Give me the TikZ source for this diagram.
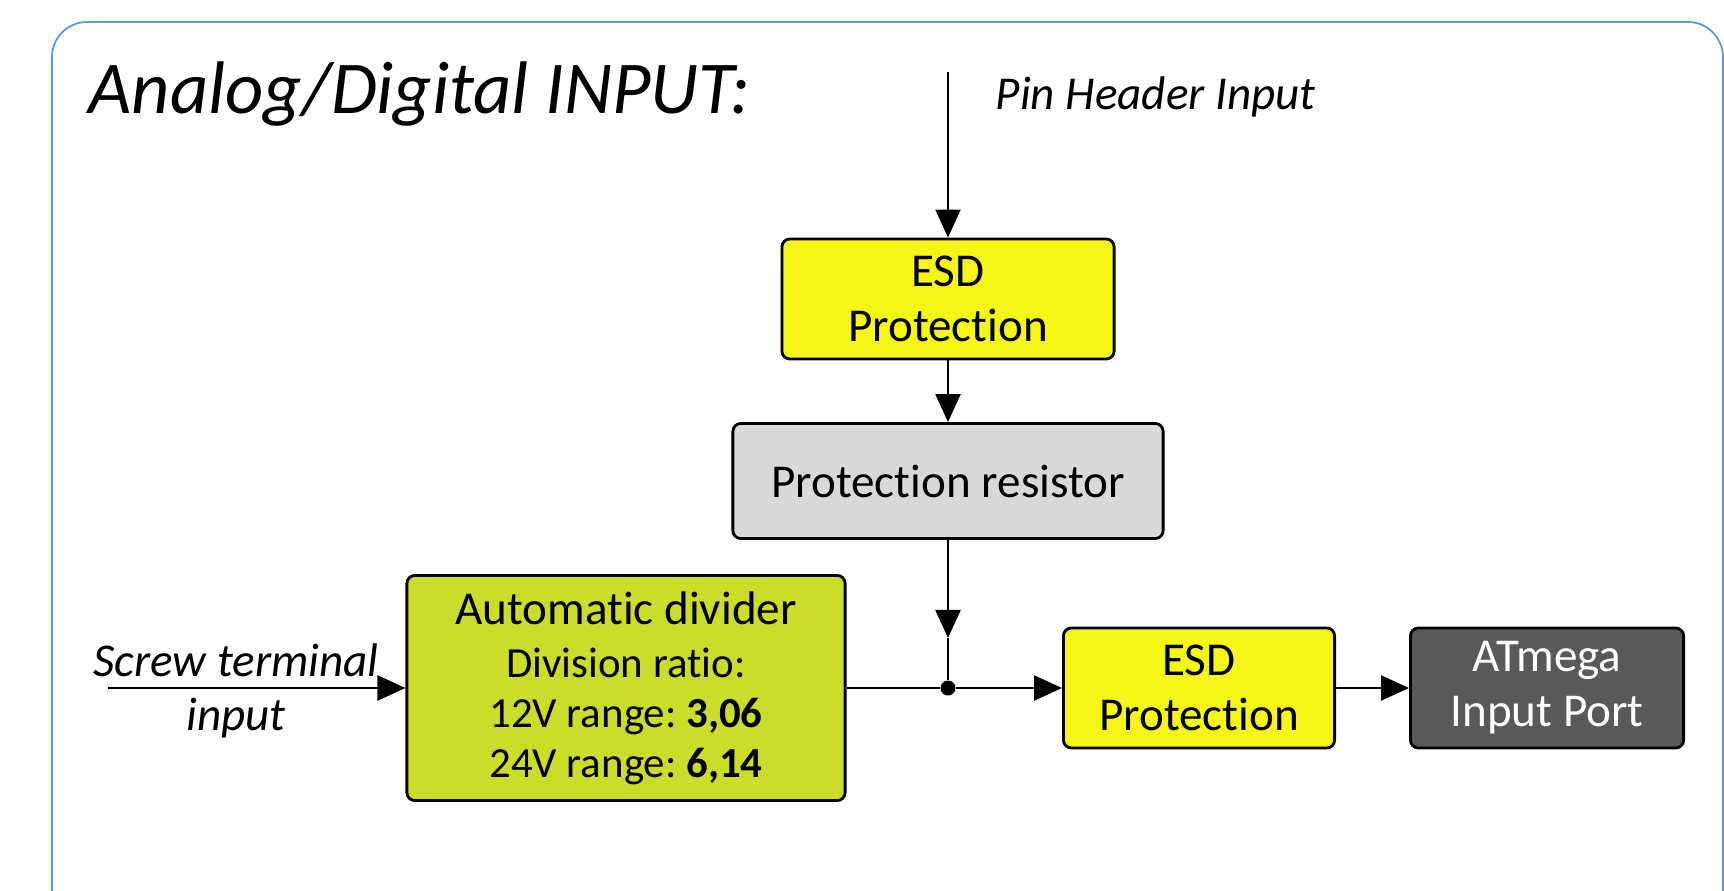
\documentclass[tikz,border=0pt]{standalone}
\usepackage{fontspec}
\setmainfont{Carlito}[Ligatures={NoCommon,NoContextual,NoRare}, RawFeature=-calt, RawFeature=-clig]
\usepackage{tikz}
\usepackage{xcolor}
\usetikzlibrary{arrows.meta}
\frenchspacing

\definecolor{esdyellow}{HTML}{F5F518}
\definecolor{divgreen}{HTML}{CBDC2A}
\definecolor{resgray}{HTML}{D9D9D9}
\definecolor{portgray}{HTML}{595959}
\definecolor{frameblue}{HTML}{5B9BD5}

\tikzset{
  block/.style={draw=black, line width=0.8pt, rounded corners=0.08cm, align=center, inner sep=0pt, font=\fontsize{13.4}{15.6}\selectfont},
  signal/.style={line width=0.7pt, -{Triangle[length=0.28cm, width=0.25cm]}},
  label/.style={inner sep=0pt, font=\fontsize{13.4}{15.6}\selectfont\itshape},
}

\begin{document}
\begin{tikzpicture}[x=0.01cm, y=-0.01cm]

        \useasboundingbox (0, 0) rectangle (1724, 891);
        \clip (0, 0) rectangle (1724, 891);

        % frame
        \draw [frameblue, line width=0.5pt, rounded corners=0.35cm] (52, 22) rectangle (1723, 960);
        \node[anchor=base west, inner sep=0pt, font=\fontsize{21.2}{25}\selectfont\itshape] (title) at (88, 114) {Analog/Digital INPUT:};

        % inputs
        \coordinate (pin) at (948, 72);
        \node[label, anchor=base west] (pinlabel) at (995, 110) {Pin Header Input};
        \coordinate (screw) at (108, 688);
        \node[label, align=center] (screwlabel) at (236, 691) {Screw terminal\\input};

        % blocks
        \node[block, fill=esdyellow, minimum width=3.32cm, minimum height=1.2cm] (esdtop) at (948, 299) {ESD\\Protection};
        \node[block, fill=resgray, minimum width=4.3cm, minimum height=1.15cm] (resistor) at (948, 481) {Protection resistor};
        \node[block, fill=divgreen, minimum width=4.38cm, minimum height=2.25cm, font=\fontsize{12.2}{14.2}\selectfont] (divider) at (626, 688) {{\fontsize{13.4}{15.6}\selectfont Automatic divider}\\[1pt]Division ratio:\\12V range: \textbf{3,06}\\24V range: \textbf{6,14}};
        \node[block, fill=esdyellow, minimum width=2.71cm, minimum height=1.2cm] (esdbot) at (1199, 688) {ESD\\Protection};
        \node[block, fill=portgray, text=white, minimum width=2.73cm, minimum height=1.2cm] (port) at (1547, 688) {ATmega\\Input Port};

        % junction
        \coordinate (tip) at (948, 638);
        \node[circle, fill=black, inner sep=0pt, minimum size=0.15cm] (junction) at (948, 688) {};

        % connectors
        \draw [signal] (pin) -- (esdtop);
        \draw [signal] (esdtop) -- (resistor);
        \draw [signal] (resistor) -- (tip);
        \draw [line width=0.4pt] (tip) -- (junction);
        \draw [signal] (screw) -- (divider.west);
        \draw [line width=0.7pt] (divider.east) -- (junction);
        \draw [signal] (junction) -- (esdbot);
        \draw [signal] (esdbot) -- (port);

      \end{tikzpicture}
\end{document}
